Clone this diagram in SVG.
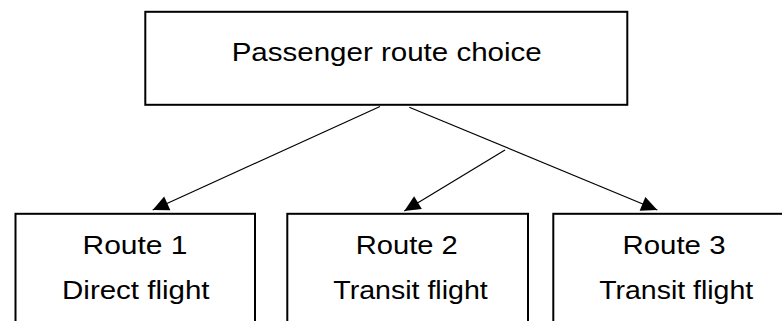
<svg xmlns="http://www.w3.org/2000/svg" width="782" height="321" viewBox="0 0 782 321">
  <style>
    .box { fill: #ffffff; stroke: #000000; stroke-width: 2; }
    .conn { stroke: #000000; stroke-width: 1.2; fill: none; marker-end: url(#arrow); }
    .lbl { font-family: "Liberation Sans", Arial, sans-serif; font-size: 25px; fill: #000000; text-anchor: middle; }
  </style>
  <defs>
    <marker id="arrow" markerUnits="userSpaceOnUse" markerWidth="16" markerHeight="16" viewBox="0 -7 15 14" refX="15" refY="0" orient="auto" overflow="visible">
      <path d="M0,-7 L15,0 L0,7 Z" fill="#000000"/>
    </marker>
  </defs>
  <rect width="782" height="321" fill="#ffffff"/>
  <g id="connectors">
    <line class="conn" x1="380" y1="106.5" x2="152.7" y2="210"/>
    <line class="conn" x1="409.3" y1="107.2" x2="657.3" y2="210"/>
    <line class="conn" x1="505" y1="150" x2="404.3" y2="211"/>
  </g>
  <g id="node-root">
    <rect class="box" x="145.3" y="11.8" width="482" height="93"/>
    <text class="lbl" x="386.7" y="61" textLength="310" lengthAdjust="spacingAndGlyphs">Passenger route choice</text>
  </g>
  <g id="node-route1">
    <rect class="box" x="15.5" y="213.8" width="239.5" height="130"/>
    <text class="lbl" x="135" y="254" textLength="105" lengthAdjust="spacingAndGlyphs">Route 1</text>
    <text class="lbl" x="135.8" y="299" textLength="147.5" lengthAdjust="spacingAndGlyphs">Direct flight</text>
  </g>
  <g id="node-route2">
    <rect class="box" x="287.3" y="213.8" width="240.7" height="130"/>
    <text class="lbl" x="406.8" y="254" textLength="102" lengthAdjust="spacingAndGlyphs">Route 2</text>
    <text class="lbl" x="410.5" y="299" textLength="154.5" lengthAdjust="spacingAndGlyphs">Transit flight</text>
  </g>
  <g id="node-route3">
    <rect class="box" x="553.3" y="213.8" width="243" height="130"/>
    <text class="lbl" x="674" y="254" textLength="103" lengthAdjust="spacingAndGlyphs">Route 3</text>
    <text class="lbl" x="676.2" y="299" textLength="154" lengthAdjust="spacingAndGlyphs">Transit flight</text>
  </g>
</svg>
